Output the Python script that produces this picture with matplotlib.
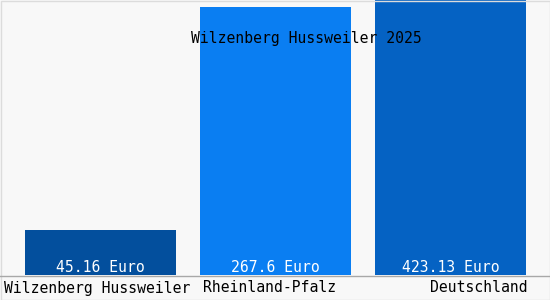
import matplotlib
matplotlib.use("Agg")
import matplotlib.pyplot as plt
from matplotlib.patches import Rectangle

categories = ["Wilzenberg Hussweiler", "Rheinland-Pfalz", "Deutschland"]
values = [45.16, 267.6, 423.13]
value_labels = ["45.16 Euro", "267.6 Euro", "423.13 Euro"]
colors = ["#034f9d", "#0a7ef2", "#0562c3"]
title = "Wilzenberg Hussweiler 2025"

W, H = 550, 300
fig = plt.figure(figsize=(W / 100, H / 100), dpi=100)
fig.patch.set_facecolor("#f8f8f8")
font = "DejaVu Sans Mono"
fs = 10.6

ax = fig.add_axes([0, 25 / H, 1, 275 / H])
ax.set_facecolor("#f8f8f8")
x = list(range(len(categories)))
ax.bar(x, values, width=151 / 175, color=colors, zorder=2)
ax.set_xlim(-100.5 / 175, (W - 100.5) / 175)
ax.set_ylim(0, 275)
for s in ax.spines.values():
    s.set_visible(False)
ax.set_xticks([])
ax.set_yticks([])

for xi, lab in zip(x, value_labels):
    ax.text(xi, 7, lab, ha="center", va="center", color="white",
            fontsize=fs, family=font, zorder=3)

ax.text((306 - 100.5) / 175, 275 - 38, title, ha="center", va="center",
        color="black", fontsize=fs, family=font, zorder=3)

# bottom line
fig.add_artist(plt.Line2D([0, 1], [1 - 275.5 / H, 1 - 275.5 / H],
                          transform=fig.transFigure, color="#a8a8a8", lw=1))
# border
fig.add_artist(Rectangle((0.5 / W, 0.5 / H), 1 - 1 / W, 1 - 1 / H,
                         transform=fig.transFigure, fill=False,
                         edgecolor="#dcdcdc", lw=1))

ty = 1 - 288 / H
fig.text(4 / W, ty, categories[0], ha="left", va="center", fontsize=fs,
         family=font, color="black")
fig.text(270 / W, ty, categories[1], ha="center", va="center", fontsize=fs,
         family=font, color="black")
fig.text(528 / W, ty, categories[2], ha="right", va="center", fontsize=fs,
         family=font, color="black")

fig.savefig("out.png", dpi=100, facecolor=fig.get_facecolor())
